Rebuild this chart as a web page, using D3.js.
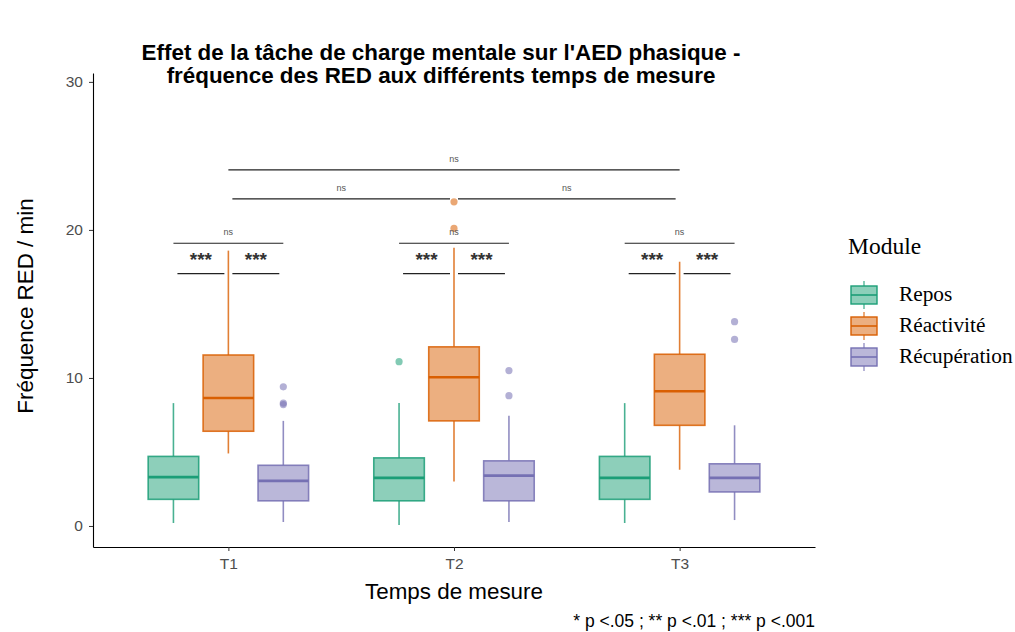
<!DOCTYPE html>
<html>
<head>
<meta charset="utf-8">
<script src="https://cdn.jsdelivr.net/npm/d3@7"></script>
<style>
  body { margin: 0; background: #fff; }
  svg { display: block; }
</style>
</head>
<body>
<svg width="1015" height="632"></svg>
<script>
// data
const times = ["T1", "T2", "T3"];
const modules = ["Repos", "Réactivité", "Récupération"];
const lineColors = ["#1b9e77", "#d95f02", "#7570b3"];
const fillColors = ["#8dcfba", "#ecaf80", "#bab7d9"];

// [lower whisker, Q1, median, Q3, upper whisker] per time, per module
const repos = [[0.2, 1.8, 3.3, 4.7, 8.3], [0.07, 1.7, 3.25, 4.6, 8.3], [0.2, 1.8, 3.25, 4.7, 8.3]];
const reactivite = [[4.9, 6.4, 8.65, 11.55, 18.6], [3.0, 7.1, 10.05, 12.1, 18.8], [3.8, 6.8, 9.1, 11.6, 17.85]];
const recuperation = [[0.27, 1.7, 3.05, 4.1, 7.1], [0.27, 1.7, 3.4, 4.4, 7.45], [0.4, 2.3, 3.25, 4.2, 6.8]];
const outliers = [
  { time: "T1", module: "Récupération", values: [9.4, 8.3, 8.2] },
  { time: "T2", module: "Repos", values: [11.1] },
  { time: "T2", module: "Réactivité", values: [21.9, 20.1] },
  { time: "T2", module: "Récupération", values: [10.5, 8.8] },
  { time: "T3", module: "Récupération", values: [13.8, 12.6] }
];

// within-time brackets: [from module, to module, y, label]
const innerBrackets = [
  ["Repos", "Réactivité", 17.05, "***"],
  ["Réactivité", "Récupération", 17.05, "***"],
  ["Repos", "Récupération", 19.1, "ns"]
];
// between-time brackets: [from time, to time, y, label]
const outerBrackets = [
  ["T1", "T2", 22.1, "ns"],
  ["T2", "T3", 22.1, "ns"],
  ["T1", "T3", 24.05, "ns"]
];
const yTicks = [0, 10, 20, 30];

const statsByModule = [repos, reactivite, recuperation];

const svg = d3.select("svg");
const mLeft = 93, mRight = 815, mTop = 73, mBottom = 547;
const sans = "Liberation Sans, Arial, sans-serif";
const serif = "Liberation Serif, Times New Roman, serif";

const x = d3.scalePoint().domain(times).range([mLeft, mRight]).padding(0.6);
const step = x.step();
const y = d3.scaleLinear().domain([-1.42, 30.6]).range([mBottom, mTop]);
const dodge = d3.scaleBand().domain(modules).range([-step * 0.375, step * 0.375]).padding(0.08);
const boxW = dodge.bandwidth();
const cx = (t, m) => x(t) + dodge(m) + boxW / 2;

// boxes
const boxData = [];
times.forEach((t, ti) => modules.forEach((m, mi) => {
  const s = statsByModule[mi][ti];
  boxData.push({ t, m, mi, lo: s[0], q1: s[1], med: s[2], q3: s[3], hi: s[4] });
}));

const boxes = svg.append("g").selectAll("g").data(boxData).join("g");
boxes.append("line")
  .attr("x1", d => cx(d.t, d.m)).attr("x2", d => cx(d.t, d.m))
  .attr("y1", d => y(d.hi)).attr("y2", d => y(d.q3))
  .attr("stroke", d => lineColors[d.mi]).attr("stroke-width", 1.6).attr("stroke-opacity", 0.8);
boxes.append("line")
  .attr("x1", d => cx(d.t, d.m)).attr("x2", d => cx(d.t, d.m))
  .attr("y1", d => y(d.q1)).attr("y2", d => y(d.lo))
  .attr("stroke", d => lineColors[d.mi]).attr("stroke-width", 1.6).attr("stroke-opacity", 0.8);
boxes.append("rect")
  .attr("x", d => cx(d.t, d.m) - boxW / 2).attr("width", boxW)
  .attr("y", d => y(d.q3)).attr("height", d => y(d.q1) - y(d.q3))
  .attr("fill", d => fillColors[d.mi])
  .attr("stroke", d => lineColors[d.mi]).attr("stroke-width", 1.6).attr("stroke-opacity", 0.85);
boxes.append("line")
  .attr("x1", d => cx(d.t, d.m) - boxW / 2).attr("x2", d => cx(d.t, d.m) + boxW / 2)
  .attr("y1", d => y(d.med)).attr("y2", d => y(d.med))
  .attr("stroke", d => lineColors[d.mi]).attr("stroke-width", 2.6);

// outliers
const pts = outliers.flatMap(o => o.values.map(v => ({ t: o.time, m: o.module, v })));
svg.append("g").selectAll("circle").data(pts).join("circle")
  .attr("cx", d => cx(d.t, d.m)).attr("cy", d => y(d.v)).attr("r", 3.6)
  .attr("fill", d => lineColors[modules.indexOf(d.m)]).attr("fill-opacity", 0.55);

// brackets
const br = svg.append("g");
times.forEach(t => {
  innerBrackets.forEach(([a, b, v, lab]) => {
    const inset = lab === "ns" ? 0 : 4;
    const x1 = cx(t, a) + inset, x2 = cx(t, b) - inset;
    br.append("line").attr("x1", x1).attr("x2", x2).attr("y1", y(v)).attr("y2", y(v))
      .attr("stroke", "#222").attr("stroke-width", 1.2);
    br.append("text").attr("x", (x1 + x2) / 2).attr("y", y(v) - 8)
      .attr("text-anchor", "middle")
      .attr("font-family", sans)
      .attr("font-size", lab === "ns" ? 9 : 19).attr("font-weight", lab === "ns" ? "normal" : "bold")
      .attr("fill", lab === "ns" ? "#555" : "#333")
      .text(lab);
  });
});
outerBrackets.forEach(([a, b, v, lab]) => {
  const whole = a === "T1" && b === "T3";
  const inset = whole ? 0 : 4;
  const x1 = x(a) + inset, x2 = x(b) - inset;
  br.append("line").attr("x1", x1).attr("x2", x2).attr("y1", y(v)).attr("y2", y(v))
    .attr("stroke", "#222").attr("stroke-width", 1.2);
  br.append("text").attr("x", (x1 + x2) / 2).attr("y", y(v) - 8)
    .attr("text-anchor", "middle")
    .attr("font-family", sans)
    .attr("font-size", 9).attr("fill", "#555")
    .text(lab);
});

// axes
const xAxis = svg.append("g").attr("transform", `translate(0,${mBottom})`)
  .call(d3.axisBottom(x).tickSize(4).tickSizeOuter(0));
const yAxis = svg.append("g").attr("transform", `translate(${mLeft},0)`)
  .call(d3.axisLeft(y).tickValues(yTicks).tickSize(4).tickSizeOuter(0));
[xAxis, yAxis].forEach(g => {
  g.select(".domain").attr("stroke", "#000").attr("stroke-width", 1.1);
  g.selectAll(".tick line").attr("stroke", "#333");
  g.selectAll("text").attr("fill", "#4d4d4d").attr("font-size", 15.5)
    .attr("font-family", sans);
});
xAxis.selectAll("text").attr("dy", "0.95em");
yAxis.selectAll("text").attr("dx", "-0.2em");

// titles
const title = svg.append("text").attr("text-anchor", "middle")
  .attr("font-family", sans)
  .attr("font-weight", "bold").attr("font-size", 22.4).attr("fill", "#000");
title.append("tspan").attr("x", 441).attr("y", 60).text("Effet de la tâche de charge mentale sur l'AED phasique -");
title.append("tspan").attr("x", 441).attr("y", 83).text("fréquence des RED aux différents temps de mesure");

svg.append("text").attr("x", (mLeft + mRight) / 2).attr("y", 599).attr("text-anchor", "middle")
  .attr("font-family", sans).attr("font-size", 22.4).attr("fill", "#000")
  .text("Temps de mesure");

svg.append("text").attr("transform", `translate(33,306) rotate(-90)`).attr("text-anchor", "middle")
  .attr("font-family", sans).attr("font-size", 22.4).attr("fill", "#000")
  .text("Fréquence RED / min");

svg.append("text").attr("x", 815).attr("y", 627).attr("text-anchor", "end")
  .attr("font-family", sans).attr("font-size", 17.5).attr("fill", "#000")
  .text("* p <.05 ; ** p <.01 ; *** p <.001");

// legend
const lg = svg.append("g").attr("transform", "translate(848,0)");
lg.append("text").attr("x", 0).attr("y", 254)
  .attr("font-family", serif).attr("font-size", 23.5).attr("fill", "#000")
  .text("Module");
const keys = lg.selectAll("g").data(modules).join("g")
  .attr("transform", (d, i) => `translate(0,${295 + i * 31})`);
keys.append("line").attr("x1", 16).attr("x2", 16).attr("y1", -14).attr("y2", 14)
  .attr("stroke", (d, i) => lineColors[i]).attr("stroke-width", 1.3).attr("stroke-opacity", 0.8);
keys.append("rect").attr("x", 3).attr("y", -9).attr("width", 26).attr("height", 18)
  .attr("fill", (d, i) => fillColors[i]).attr("stroke", (d, i) => lineColors[i]).attr("stroke-width", 1.4);
keys.append("line").attr("x1", 3).attr("x2", 29).attr("y1", 0).attr("y2", 0)
  .attr("stroke", (d, i) => lineColors[i]).attr("stroke-width", 1.6);
keys.append("text").attr("x", 51).attr("y", 6)
  .attr("font-family", serif).attr("font-size", 21.3).attr("fill", "#000")
  .text(d => d);
</script>
</body>
</html>
